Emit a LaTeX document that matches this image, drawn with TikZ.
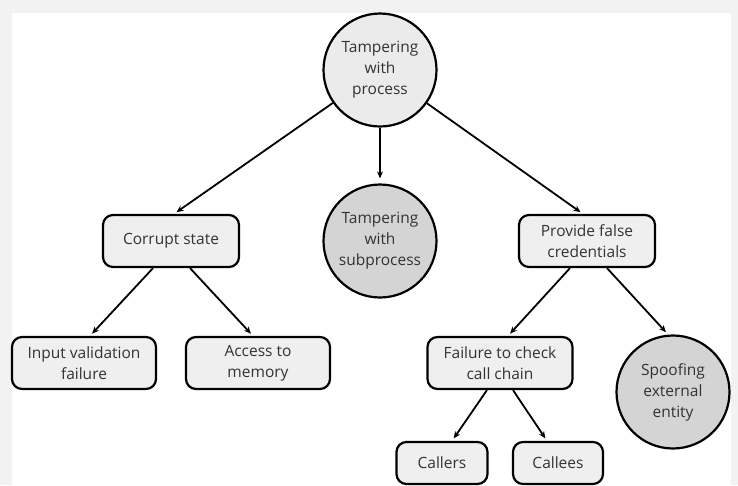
\documentclass[tikz,border=0pt]{standalone}
\usepackage{fontspec}
\setmainfont{Open Sans}
\usetikzlibrary{arrows.meta}

\definecolor{framegray}{HTML}{F2F2F2}
\definecolor{boxgray}{HTML}{EFEFEF}
\definecolor{rootgray}{HTML}{EBEBEB}
\definecolor{leafgray}{HTML}{D4D4D4}
\definecolor{textgray}{HTML}{333333}

\begin{document}
\begin{tikzpicture}[
  x=1pt, y=-1pt,
  font=\fontsize{15.5}{21}\selectfont,
  box/.style={draw, line width=2.2pt, rounded corners=10pt, fill=boxgray, text=textgray,
    align=center, minimum height=52pt, inner sep=0pt},
  root/.style={circle, draw, line width=2.2pt, fill=rootgray, text=textgray,
    align=center, minimum size=113pt, inner sep=0pt},
  threat/.style={root, fill=leafgray},
  edge/.style={draw, line width=1.8pt, -{Stealth[length=7pt,width=6pt]}, shorten >=3pt}
]

% Frame
\fill[framegray] (0,0) rectangle (738,485);
\fill[white] (12,13) rectangle (731,485);
\useasboundingbox (0,0) rectangle (738,485);

% Nodes
\node[root] (tamper) at (380,70) {Tampering\\with\\process};
\node[threat] (sub) at (380,241) {Tampering\\with\\subprocess};
\node[box, minimum width=136pt] (corrupt) at (171,241) {Corrupt state};
\node[box, minimum width=136pt] (creds) at (587,241) {Provide false\\credentials};
\node[box, minimum width=144pt] (input) at (84,363) {Input validation\\failure};
\node[box, minimum width=144pt] (memory) at (258,363) {Access to\\memory};
\node[box, minimum width=145pt] (chain) at (500,363) {Failure to check\\call chain};
\node[threat] (spoof) at (673,392) {Spoofing\\external\\entity};
\node[box, minimum width=91pt, minimum height=42pt] (callers) at (442,463) {Callers};
\node[box, minimum width=90pt, minimum height=42pt] (callees) at (558,463) {Callees};

% Edges
\draw[edge] (tamper) -- ([xshift=3pt]corrupt.north);
\draw[edge, shorten >=5pt] (tamper) -- (sub);
\draw[edge] (tamper) -- ([xshift=-4pt]creds.north);

\draw[edge] ([xshift=-18pt]corrupt.south) -- ([xshift=6pt]input.north);
\draw[edge] ([xshift=19pt]corrupt.south) -- ([xshift=-5pt]memory.north);

\draw[edge] ([xshift=-17pt]creds.south) -- ([xshift=8pt]chain.north);
\draw[edge] ([xshift=20pt]creds.south) -- ([xshift=-5pt]spoof.north);

\draw[edge] ([xshift=-13pt]chain.south) -- ([xshift=10pt]callers.north);
\draw[edge] ([xshift=13pt]chain.south) -- ([xshift=-11pt]callees.north);

\end{tikzpicture}
\end{document}
